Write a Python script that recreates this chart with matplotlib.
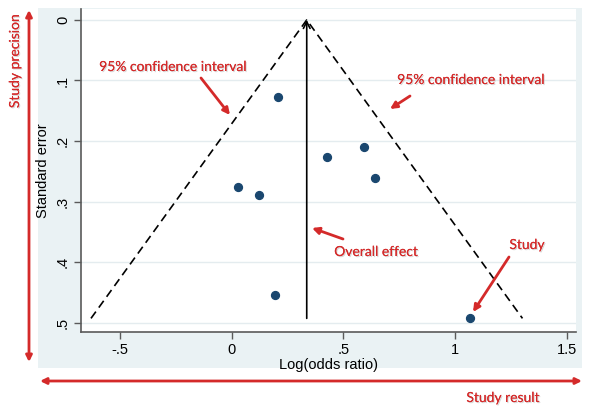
import matplotlib
matplotlib.use("Agg")
import matplotlib.pyplot as plt
from matplotlib.patches import Rectangle, FancyArrowPatch
import matplotlib.patheffects as pe
import numpy as np

# ---- data ----
log_or = [0.209, 0.030, 0.124, 0.428, 0.594, 0.643, 0.194, 1.067]
std_err = [0.127, 0.2755, 0.289, 0.227, 0.210, 0.261, 0.455, 0.493]
overall_effect = 0.336
x_ticks = [-0.5, 0, 0.5, 1, 1.5]
x_tick_labels = ["-.5", "0", ".5", "1", "1.5"]
y_ticks = [0, 0.1, 0.2, 0.3, 0.4, 0.5]
y_tick_labels = ["0", ".1", ".2", ".3", ".4", ".5"]

W, H = 596, 420
fig = plt.figure(figsize=(W / 100, H / 100), dpi=100)
fig.patch.set_facecolor("white")

def fx(px):
    return px / W

def fy(py):
    return 1 - py / H

# graph region background (Stata style)
fig.patches.append(Rectangle((fx(38), fy(368)), fx(582) - fx(38), fy(8) - fy(368),
                             transform=fig.transFigure, facecolor="#eaf2f4",
                             edgecolor="none", zorder=-5))

ax = fig.add_axes([fx(81), fy(331.7), fx(576) - fx(81), fy(9) - fy(331.7)])
ax.set_zorder(1)
ax.set_facecolor("white")
ax.set_xlim(-0.675, 1.542)
ax.set_ylim(0.515, -0.018)

red = "#d42a2a"
navy = "#1a476f"

# funnel
se_max = max(std_err)
z = 1.96
ax.plot([overall_effect - z * se_max, overall_effect, overall_effect + z * se_max],
        [se_max, 0, se_max], color="black", linestyle=(0, (5, 3)), linewidth=1.2, zorder=3)
# overall effect line with open arrowhead
ax.annotate("", xy=(overall_effect, 0), xytext=(overall_effect, se_max),
            arrowprops=dict(arrowstyle="->", color="black", lw=1.2,
                            shrinkA=0, shrinkB=0, mutation_scale=12), zorder=3)

ax.scatter(log_or, std_err, s=32, color=navy, zorder=4)

# axes styling
for s in ["top", "right"]:
    ax.spines[s].set_visible(False)
for s in ["left", "bottom"]:
    ax.spines[s].set_color("#5a5a5a")
    ax.spines[s].set_linewidth(1.2)
ax.set_xticks(x_ticks)
ax.set_xticklabels(x_tick_labels, fontfamily="Liberation Sans", fontsize=10.5)
ax.set_yticks(y_ticks)
ax.set_yticklabels(y_tick_labels, fontfamily="Liberation Sans", fontsize=10.5,
                   rotation=90, va="center")
ax.tick_params(axis="both", direction="out", length=5, width=1, color="#5a5a5a", pad=3)
ax.grid(axis="y", color="#e4ecef", linewidth=1)
ax.set_axisbelow(True)
ax.set_xlabel("Log(odds ratio)", fontfamily="Liberation Sans", fontsize=10.5, labelpad=1)
ax.set_ylabel("Standard error", fontfamily="Liberation Sans", fontsize=10.5, labelpad=4)

# red annotations
shadow = [pe.withSimplePatchShadow(offset=(0.8, -0.8), shadow_rgbFace="#bbbbbb", alpha=0.6), pe.Normal()]
tkw = dict(color=red, fontfamily="Lato", fontsize=10, ha="center", va="center",
           path_effects=shadow, zorder=10)

def ftext(px, py, s, **kw):
    d = dict(tkw)
    d.update(kw)
    fig.text(fx(px), fy(py), s, **d)

def farrow(x0, y0, x1, y1, style="-|>", lw=2.0, ms=10):
    a = FancyArrowPatch((fx(x0), fy(y0)), (fx(x1), fy(y1)), transform=fig.transFigure,
                        arrowstyle=style, color=red, lw=lw, mutation_scale=ms,
                        shrinkA=0, shrinkB=0, zorder=10)
    fig.patches.append(a)

ftext(173, 67, "95% confidence interval")
farrow(201, 78, 230, 115)
ftext(471, 80, "95% confidence interval")
farrow(410, 96, 390, 109)
ftext(376, 252, "Overall effect")
farrow(343, 239, 312, 228)
ftext(527, 245, "Study")
farrow(509, 257, 473, 312)
ftext(503, 398, "Study result")
ftext(15, 61, "Study precision", rotation=90)

# big double arrows
farrow(29, 362, 29, 10, style="<|-|>", lw=2.0, ms=9)
farrow(40, 381, 582, 381, style="<|-|>", lw=2.0, ms=9)

fig.savefig("out.png", dpi=100, facecolor="white")
